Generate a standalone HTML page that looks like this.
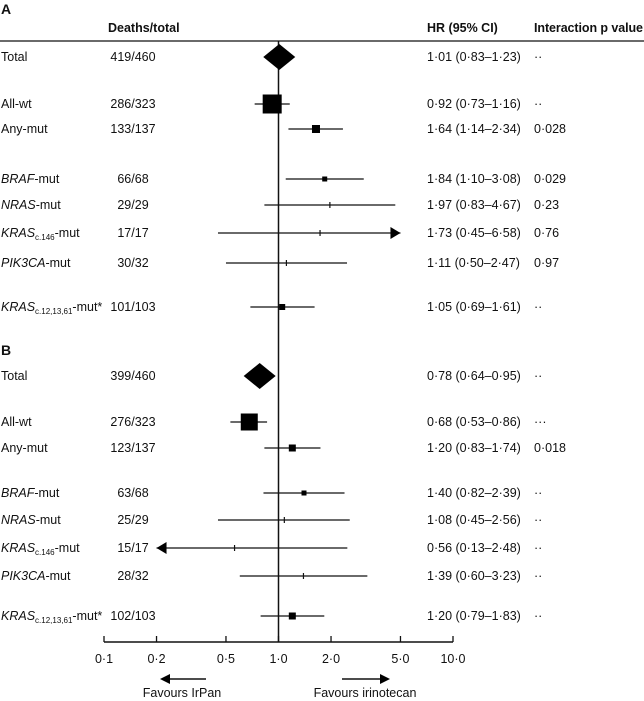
<!DOCTYPE html>
<html><head><meta charset="utf-8">
<style>
body{margin:0;background:#fff;}
svg{display:block;font-family:"Liberation Sans",sans-serif;font-size:12.5px;fill:#111;}
</style></head>
<body>
<svg id="c" width="644" height="701" viewBox="0 0 644 701"></svg>
<script>
const labels=[["Total",""],["All-wt",""],["Any-mut",""],["BRAF","-mut","i"],["NRAS","-mut","i"],["KRAS","-mut","i","c.146"],["PIK3CA","-mut","i"],["KRAS","-mut*","i","c.12,13,61"]];
const rowsA=[57,104,129,179,205,233,263,307];
const rowsB=[376,422,448,493,520,548,576,616];
const deathsA=["419/460","286/323","133/137","66/68","29/29","17/17","30/32","101/103"];
const deathsB=["399/460","276/323","123/137","63/68","25/29","15/17","28/32","102/103"];
const hrA=[1.01,0.92,1.64,1.84,1.97,1.73,1.11,1.05];
const loA=[0.83,0.73,1.14,1.10,0.83,0.45,0.50,0.69];
const hiA=[1.23,1.16,2.34,3.08,4.67,6.58,2.47,1.61];
const hrB=[0.78,0.68,1.20,1.40,1.08,0.56,1.39,1.20];
const loB=[0.64,0.53,0.83,0.82,0.45,0.13,0.60,0.79];
const hiB=[0.95,0.86,1.74,2.39,2.56,2.48,3.23,1.83];
const pA=["··","··","0·028","0·029","0·23","0·76","0·97","··"];
const pB=["··","···","0·018","··","··","··","··","··"];
const sizeA=[0,19,8,5,1,1,1,6];
const sizeB=[0,17,7,5,1,1,1,7];
const ticks=[0.1,0.2,0.5,1,2,5,10];
const tickLabels=["0·1","0·2","0·5","1·0","2·0","5·0","10·0"];
const X0=104,X1=453;
function xs(v){return X0+(Math.log10(v)+1)/2*(X1-X0);}
const f=v=>v.toFixed(2).replace('.','·');
const svg=document.getElementById('c');const NS="http://www.w3.org/2000/svg";
function el(t,a,txt){const e=document.createElementNS(NS,t);for(const k in a)e.setAttribute(k,a[k]);if(txt!==undefined)e.textContent=txt;svg.appendChild(e);return e;}
let e;
e=el('text',{x:1,y:14,'font-weight':'bold','font-size':14},'A');

e=el('text',{x:1,y:355,'font-weight':'bold','font-size':14},'B');

e=el('text',{x:108,y:32,'font-weight':'bold'},'Deaths/total');

e=el('text',{x:427,y:32,'font-weight':'bold'},'HR (95% CI)');

e=el('text',{x:534,y:32,'font-weight':'bold','textLength':109},'Interaction p value');

e=el('line',{x1:0,y1:41,x2:644,y2:41,stroke:'#111','stroke-width':1.3});

e=el('line',{x1:xs(1),y1:41,x2:xs(1),y2:642,stroke:'#111','stroke-width':1.5});

function panel(rows,deaths,hr,lo,hi,p,size,tag){
 rows.forEach((y,i)=>{
  const L=labels[i];
  const t=el('text',{x:1,y:y+4});
  
  
  const a=document.createElementNS(NS,'tspan');a.textContent=L[0];if(L[2])a.setAttribute('font-style','italic');t.appendChild(a);
  if(L[3]){const s=document.createElementNS(NS,'tspan');s.setAttribute('font-size','8');s.setAttribute('dy','3');s.textContent=L[3];t.appendChild(s);
   const b=document.createElementNS(NS,'tspan');b.setAttribute('dy','-3');b.textContent=L[1];t.appendChild(b);}
  else if(L[1]){const b=document.createElementNS(NS,'tspan');b.textContent=L[1];t.appendChild(b);}
  e=el('text',{x:133,y:y+4,'text-anchor':'middle'},deaths[i]);
  
  
  e=el('text',{x:427,y:y+4},f(hr[i])+' ('+f(lo[i])+'–'+f(hi[i])+')');
  
  
  e=el('text',{x:534,y:y+4},p[i]);
  
  
  const cx=xs(hr[i]);
  if(i===0){
   e=el('polygon',{points:`${cx-16},${y} ${cx},${y-13} ${cx+16},${y} ${cx},${y+13}`,fill:'#000'});
   
   
   return;
  }
  const lv=Math.max(lo[i],0.2),hv=Math.min(hi[i],5);
  const x1=xs(lv),x2=xs(hv);
  e=el('line',{x1:x1,y1:y,x2:x2,y2:y,stroke:'#111','stroke-width':1.2});
  
  
  if(hi[i]>5){e=el('polygon',{points:`${x2-10},${y-6} ${x2},${y} ${x2-10},${y+6}`,fill:'#000'});
   }
  if(lo[i]<0.2){e=el('polygon',{points:`${x1+10},${y-6} ${x1},${y} ${x1+10},${y+6}`,fill:'#000'});
   }
  const s=size[i];
  if(s<=1) e=el('line',{x1:cx,y1:y-3,x2:cx,y2:y+3,stroke:'#111','stroke-width':1.2});
  else e=el('rect',{x:cx-s/2,y:y-s/2,width:s,height:s,fill:'#000'});
  
  
 });
}
panel(rowsA,deathsA,hrA,loA,hiA,pA,sizeA,'a');
panel(rowsB,deathsB,hrB,loB,hiB,pB,sizeB,'b');
e=el('line',{x1:X0,y1:642,x2:X1,y2:642,stroke:'#111','stroke-width':1.4});

ticks.forEach((v,i)=>{
 e=el('line',{x1:xs(v),y1:636,x2:xs(v),y2:642,stroke:'#111','stroke-width':1.3});
 
 e=el('text',{x:xs(v),y:663,'text-anchor':'middle'},tickLabels[i]);
 
});
e=el('line',{x1:206,y1:679,x2:168,y2:679,stroke:'#111','stroke-width':1.5});

e=el('polygon',{points:'160,679 170,674 170,684',fill:'#000'});

e=el('line',{x1:342,y1:679,x2:382,y2:679,stroke:'#111','stroke-width':1.5});

e=el('polygon',{points:'390,679 380,674 380,684',fill:'#000'});

e=el('text',{x:182,y:697,'text-anchor':'middle'},'Favours IrPan');

e=el('text',{x:365,y:697,'text-anchor':'middle'},'Favours irinotecan');

</script>
</body></html>
